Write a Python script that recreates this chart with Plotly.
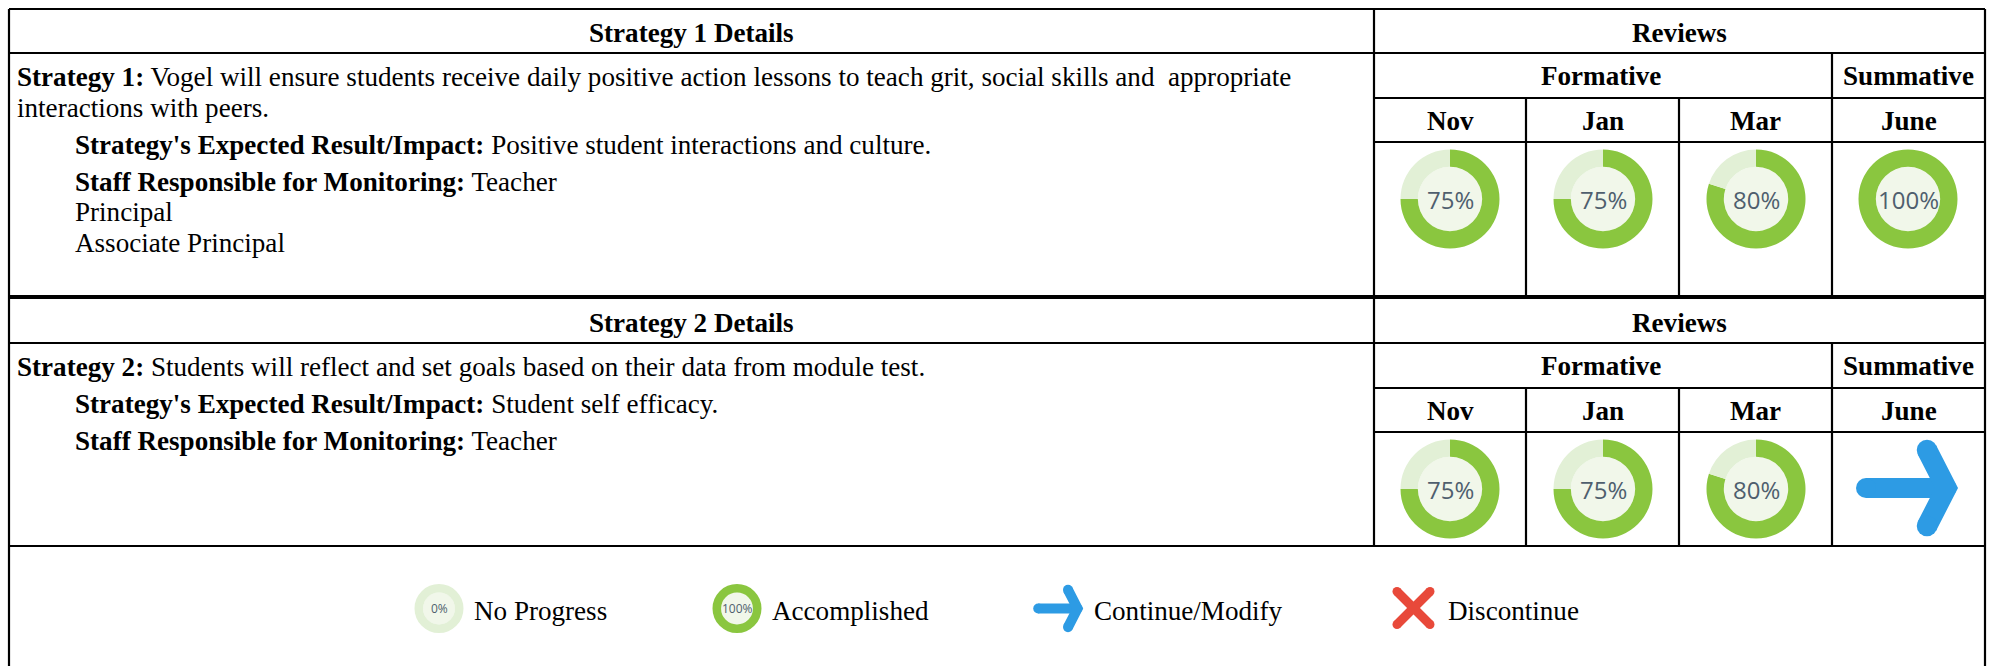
import plotly.graph_objects as go

W, H = 1995, 666
SERIF = "Liberation Serif"
months = ["Nov", "Jan", "Mar", "June"]
row1_progress = [75, 75, 80, 100]
row2_progress = [75, 75, 80, None]
legend_labels = ["No Progress", "Accomplished", "Continue/Modify", "Discontinue"]
legend_progress = [0, 100]

GREEN, PALE, CORE, BLUE, RED = "#8AC63F", "#E2F0D6", "#F1F7EA", "#2D9BE4", "#E8493A"
INK = "#000000"

fig = go.Figure()
shapes, notes = [], []


def rule(x0, y0, x1, y1, w=2.2):
    shapes.append(dict(type="line", xref="x", yref="y", x0=x0, y0=y0, x1=x1, y1=y1,
                       line=dict(color=INK, width=w)))


def text(x, y, s, size=27.1, anchor="left", color=INK, family=SERIF):
    notes.append(dict(x=x, y=y, xref="x", yref="y", text=s, showarrow=False, xanchor=anchor,
                      yanchor="middle", align=anchor,
                      font=dict(family=family, size=size, color=color)))


def donut(cx, cy, r, pct, size):
    pct = pct or 0
    fig.add_trace(go.Pie(values=[pct, 100 - pct], sort=False, direction="clockwise", rotation=0,
                         hole=0.65, marker=dict(colors=[GREEN, PALE], line=dict(width=0)),
                         textinfo="none", hoverinfo="skip", showlegend=False,
                         domain=dict(x=[(cx - r) / W, (cx + r) / W],
                                     y=[1 - (cy + r) / H, 1 - (cy - r) / H])))
    shapes.append(dict(type="circle", xref="x", yref="y", x0=cx - r * .65, x1=cx + r * .65,
                       y0=cy - r * .65, y1=cy + r * .65, fillcolor=CORE, line_width=0, layer="below"))
    text(cx, cy, f"{pct}%", size=size, anchor="center", color="#4F5F6E", family="Open Sans")


def stroke(xs, ys, color, w):
    fig.add_trace(go.Scatter(x=xs, y=ys, mode="lines", line=dict(color=color, width=w),
                             hoverinfo="skip", showlegend=False))
    ends = [(xs[0], ys[0]), (xs[-1], ys[-1])]
    fig.add_trace(go.Scatter(x=[e[0] for e in ends], y=[e[1] for e in ends], mode="markers",
                             marker=dict(color=color, size=w, line_width=0), hoverinfo="skip", showlegend=False))


def arrow(cx, cy, s):
    # icon with half-height s centred on (cx, cy)
    stroke([cx - s * .84, cx + s * .77], [cy, cy], BLUE, s * .4)
    stroke([cx + s * .38, cx + s * .77, cx + s * .38], [cy - s * .76, cy, cy + s * .76], BLUE, s * .41)


def cross(cx, cy, s, w):
    stroke([cx - s, cx + s], [cy - s, cy + s], RED, w)
    stroke([cx - s, cx + s], [cy + s, cy - s], RED, w)


L, R = 9, 1985
C = [1374, 1526, 1679, 1832, R]
centers = [1450, 1603, 1756, 1908]
rows = [
    dict(top=9, a=53, b=98, c=142, bot=296, title="Strategy 1 Details", prog=row1_progress),
    dict(top=298, a=343, b=388, c=432, bot=546, title="Strategy 2 Details", prog=row2_progress),
]

for r in rows:
    rule(L, r["top"], R, r["top"])
    rule(L, r["a"], R, r["a"])
    rule(C[0], r["b"], R, r["b"])
    rule(C[0], r["c"], R, r["c"])
    rule(L, r["bot"], R, r["bot"])
    rule(C[0], r["top"], C[0], r["bot"])
    rule(C[3], r["a"], C[3], r["bot"])
    rule(C[1], r["b"], C[1], r["bot"])
    rule(C[2], r["b"], C[2], r["bot"])
    mid = (r["top"] + r["a"]) / 2 + 2
    text((L + C[0]) / 2, mid, f"<b>{r['title']}</b>", anchor="center")
    text((C[0] + R) / 2, mid, "<b>Reviews</b>", anchor="center")
    mid2 = (r["a"] + r["b"]) / 2 + 0.5
    text((C[0] + C[3]) / 2 - 2, mid2, "<b>Formative</b>", anchor="center")
    text((C[3] + R) / 2, mid2, "<b>Summative</b>", anchor="center")
    mid3 = (r["b"] + r["c"]) / 2 + 1
    for i, m in enumerate(months):
        text((C[i] + C[i + 1]) / 2, mid3, f"<b>{m}</b>", anchor="center")
    cy = r["c"] + 57
    for cx, p in zip(centers, r["prog"]):
        if p is None:
            arrow(cx, cy - 1, 50)
        else:
            donut(cx, cy, 49.5, p, 24)

rule(L, 9, L, H)
rule(R, 9, R, H)

X1, X2 = 14.5, 72.5
text(X1, 77, "<b>Strategy 1:</b> Vogel will ensure students receive daily positive action lessons to teach grit, social skills and  appropriate")
text(X1, 107.5, "interactions with peers.")
text(X2, 145, "<b>Strategy's Expected Result/Impact:</b> Positive student interactions and culture.")
text(X2, 182, "<b>Staff Responsible for Monitoring:</b> Teacher")
text(X2, 212, "Principal")
text(X2, 243, "Associate Principal")
text(X1, 367, "<b>Strategy 2:</b> Students will reflect and set goals based on their data from module test.")
text(X2, 404, "<b>Strategy's Expected Result/Impact:</b> Student self efficacy.")
text(X2, 441, "<b>Staff Responsible for Monitoring:</b> Teacher")

LY, TY = 608.5, 611
donut(439, LY, 24.5, legend_progress[0], 12)
text(472, TY, legend_labels[0])
donut(737, LY, 24.5, legend_progress[1], 12)
text(770, TY, legend_labels[1])
arrow(1058.7, LY, 24.5)
text(1092, TY, legend_labels[2])
cross(1413.5, 608, 16.5, 9)
text(1446, TY, legend_labels[3])

fig.update_layout(
    width=W, height=H, margin=dict(l=0, r=0, t=0, b=0), paper_bgcolor="white", plot_bgcolor="white",
    xaxis=dict(range=[0, W], visible=False, fixedrange=True),
    yaxis=dict(range=[H, 0], visible=False, fixedrange=True),
    shapes=shapes, annotations=notes,
)
fig.write_html("out.html", config=dict(displayModeBar=False),
               post_script="document.body.style.margin='0';document.documentElement.style.overflow='hidden';")
